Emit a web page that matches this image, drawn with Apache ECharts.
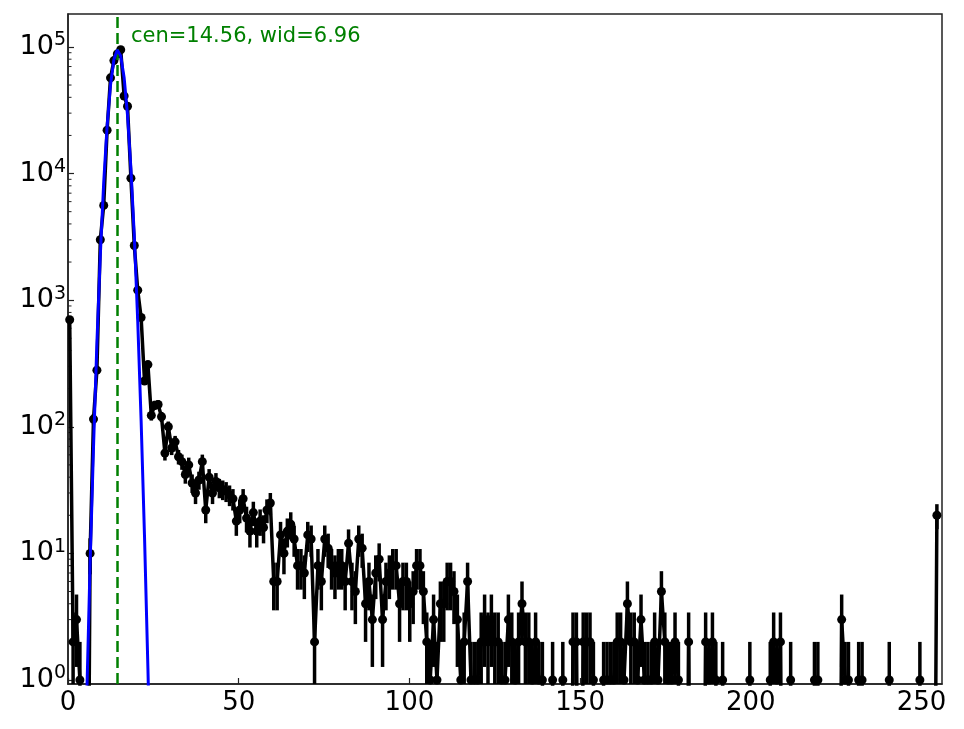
<!DOCTYPE html>
<html>
<head>
<meta charset="utf-8">
<script src="https://cdn.jsdelivr.net/npm/echarts@6/dist/echarts.min.js"></script>
<style>
  html, body { margin: 0; padding: 0; background: #fff; }
  #chart { width: 964px; height: 729px; }
</style>
</head>
<body>
<div id="chart"></div>
<script>
// histogram counts, one per bin (256 bins spanning 0..255)
const counts = [
  700, 2, 3, 1, 0, 0, 10, 115, 280, 3000,
  5600, 22000, 57000, 78000, 88000, 95000, 41000, 34000, 9200, 2700,
  1200, 730, 230, 310, 123, 148, 150, 120, 62, 100,
  68, 76, 58, 53, 42, 50, 36, 30, 38, 53,
  22, 40, 30, 37, 33, 32, 31, 29, 27, 18,
  22, 27, 19, 15, 21, 15, 18, 16, 22, 25,
  6, 6, 14, 10, 15, 17, 13, 8, 8, 7,
  14, 13, 2, 8, 6, 13, 11, 8, 7, 8,
  8, 6, 12, 6, 5, 13, 11, 4, 6, 3,
  7, 9, 3, 6, 7, 8, 8, 4, 6, 6,
  4, 5, 8, 8, 5, 2, 1, 3, 1, 4,
  4, 6, 6, 5, 3, 1, 2, 6, 1, 1,
  1, 2, 3, 2, 3, 2, 2, 1, 1, 3,
  2, 1, 2, 4, 2, 2, 1, 2, 1, 1,
  0, 0, 1, 0, 0, 1, 0, 0, 2, 2,
  0, 2, 2, 2, 1, 0, 0, 1, 1, 1,
  1, 2, 2, 1, 4, 2, 2, 1, 3, 1,
  1, 1, 2, 1, 5, 2, 1, 1, 2, 1,
  0, 0, 2, 0, 0, 0, 0, 2, 1, 2,
  1, 0, 1, 0, 0, 0, 0, 0, 0, 0,
  1, 0, 0, 0, 0, 0, 1, 2, 1, 2,
  0, 0, 1, 0, 0, 0, 0, 0, 0, 1,
  1, 0, 0, 0, 0, 0, 0, 3, 1, 1,
  0, 0, 1, 1, 0, 0, 0, 0, 0, 0,
  0, 1, 0, 0, 0, 0, 0, 0, 0, 0,
  1, 0, 0, 0, 0, 20
];
const histMax = 255;

// gaussian fit, bins 4..24
const fitStartBin = 4;
const fitValues = [0.046, 0.71, 8.3, 69, 460, 2260, 8500, 23700, 50100, 79600,
  94800, 85000, 57400, 29000, 11000, 3200, 690, 112, 13.6, 1.24, 0.086];
const cen = 14.56;
const wid = 6.96;

const xTicks = [0, 50, 100, 150, 200, 250];
const yMinorTicks = [];
for (let d = 0; d <= 5; d++) {
  for (let m = 2; m <= 9; m++) yMinorTicks.push(m * Math.pow(10, d));
}

const FONT = 'DejaVu Sans';
const zeroFloor = 1e-3;   // stand-in for empty bins on the log axis
const binW = histMax / counts.length;
const binX = i => (i + 0.5) * binW;

let lineData = [];
let errData = [];
for (let i = 0; i < counts.length; i++) {
  let c = counts[i];
  if (c > 0) {
    lineData.push({ value: [binX(i), c] });
    errData.push([binX(i), c, Math.sqrt(c)]);
  } else {
    lineData.push({ value: [binX(i), zeroFloor], symbol: 'none' });
  }
}
let fitData = fitValues.map((v, k) => [binX(fitStartBin + k), v]);

let chart = echarts.init(document.getElementById('chart'));

let option = {
  animation: false,
  backgroundColor: '#fff',
  grid: {
    left: 68, right: 22, top: 14, bottom: 45,
    show: true, borderColor: '#222', borderWidth: 1.5, backgroundColor: 'transparent'
  },
  xAxis: {
    type: 'value', min: 0, max: 256, interval: 50,
    axisLine: { show: true, lineStyle: { color: '#222', width: 1.5 } },
    axisTick: { show: true, inside: true, length: 6, lineStyle: { color: '#222', width: 1.2 } },
    axisLabel: {
      fontFamily: FONT, fontSize: 26, color: '#000', margin: 6,
      showMaxLabel: false,
      formatter: v => (xTicks.indexOf(v) >= 0 ? String(v) : '')
    },
    splitLine: { show: false }
  },
  yAxis: {
    type: 'log', logBase: 10, min: 0.93, max: 182000,
    axisLine: { show: true, lineStyle: { color: '#222', width: 1.5 } },
    axisTick: { show: true, inside: true, length: 6, lineStyle: { color: '#222', width: 1.2 } },
    axisLabel: {
      fontFamily: FONT, color: '#000', margin: 2,
      showMinLabel: false, showMaxLabel: false,
      formatter: function (v) {
        let e = Math.round(Math.log10(v));
        if (Math.abs(Math.log10(v) - e) > 1e-6) return '';
        return '{b|10}{s|' + e + '}';
      },
      rich: {
        b: { fontFamily: FONT, fontSize: 27, color: '#000' },
        s: { fontFamily: FONT, fontSize: 19, color: '#000', padding: [0, 0, 13, 0] }
      }
    },
    splitLine: { show: false }
  },
  graphic: [{
    type: 'text', left: 131, top: 26,
    style: { text: 'cen=' + cen.toFixed(2) + ', wid=' + wid.toFixed(2), fill: '#008000', font: '21px "DejaVu Sans"' }
  }],
  series: [
    {
      name: 'minor', type: 'custom', silent: true, clip: true,
      data: yMinorTicks.map(v => [0, v]),
      renderItem: function (params, api) {
        let cs = params.coordSys;
        let p = api.coord([0, api.value(1)]);
        if (p[1] < cs.y || p[1] > cs.y + cs.height) return null;
        return { type: 'line', shape: { x1: cs.x, y1: p[1], x2: cs.x + 3.5, y2: p[1] },
          style: { stroke: '#222', lineWidth: 1 } };
      }
    },
    {
      name: 'errors', type: 'custom', silent: true, z: 3,
      data: errData,
      renderItem: function (params, api) {
        let cs = params.coordSys;
        let x = api.value(0), v = api.value(1), e = api.value(2);
        let lo = v - e > 0 ? v - e : zeroFloor;
        let top = api.coord([x, v + e]);
        let bot = api.coord([x, lo]);
        let y1 = Math.max(top[1], cs.y);
        let y2 = Math.min(bot[1], cs.y + cs.height);
        return { type: 'line', shape: { x1: top[0], y1: y1, x2: top[0], y2: y2 },
          style: { stroke: '#000', lineWidth: 3.5 } };
      }
    },
    {
      name: 'data', type: 'line', z: 4, clip: true,
      data: lineData,
      symbol: 'circle', symbolSize: 9,
      itemStyle: { color: '#000' },
      lineStyle: { color: '#000', width: 3.5 }
    },
    {
      name: 'fit', type: 'line', z: 5, clip: true,
      data: fitData,
      symbol: 'none',
      lineStyle: { color: '#0000ff', width: 3 },
      markLine: {
        silent: true, symbol: ['none', 'none'], label: { show: false },
        lineStyle: { color: '#008000', type: [11, 5], width: 2.5 },
        data: [{ xAxis: cen }]
      }
    }
  ]
};
chart.setOption(option);
</script>
</body>
</html>
